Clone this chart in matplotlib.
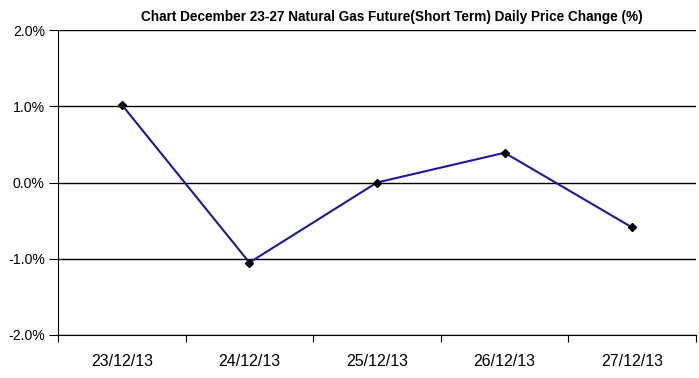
import matplotlib.pyplot as plt
import numpy as np
from matplotlib.ticker import FuncFormatter, FixedLocator

dates = ["23/12/13", "24/12/13", "25/12/13", "26/12/13", "27/12/13"]
change = [1.02, -1.05, 0.0, 0.39, -0.59]

plt.rcParams['font.family'] = ['Liberation Sans', 'DejaVu Sans']

fig = plt.figure(figsize=(6.99, 3.78), dpi=100)
ax = fig.add_axes([58 / 699, 43 / 378, 638 / 699, 305 / 378])

x = np.arange(len(dates))
ax.plot(x, change, color="#1a1a9a", lw=1.5, marker="D", ms=4,
        mfc="black", mec="black", zorder=3)

ax.set_xlim(-0.5, len(dates) - 0.5)
ax.set_ylim(-2, 2)
ax.set_yticks([-2, -1, 0, 1, 2])
ax.yaxis.set_major_formatter(FuncFormatter(lambda v, p: "%.1f%%" % v))
ax.grid(axis="y", color="black", lw=1)

# category labels centred, ticks on the boundaries
ax.xaxis.set_major_locator(FixedLocator(np.arange(-0.5, len(dates), 1.0)))
ax.set_xticklabels([])
ax.set_xticks(x, minor=True)
ax.set_xticklabels(dates, minor=True, fontsize=11.5)
ax.tick_params(axis="x", which="minor", length=0, pad=14)
ax.tick_params(axis="x", which="major", length=5, direction="out", color="black")
ax.tick_params(axis="y", length=6.5, labelsize=10.2, pad=3)

for s in ["top", "right"]:
    ax.spines[s].set_visible(False)
ax.spines["left"].set_color("black")
ax.spines["bottom"].set_color("black")

fig.text(392 / 699, 1 - 17 / 378,
         "Chart December 23-27 Natural Gas Future(Short Term) Daily Price Change (%)",
         ha="center", va="center", fontsize=9.8, fontweight="bold")

fig.savefig("out.png", dpi=100)
